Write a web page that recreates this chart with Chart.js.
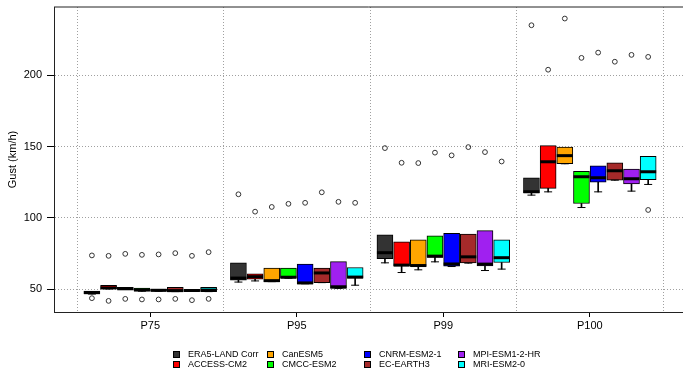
<!DOCTYPE html>
<html>
<head>
<meta charset="utf-8">
<script src="https://cdn.jsdelivr.net/npm/chart.js@4.4.0/dist/chart.umd.min.js"></script>
<style>
  html, body { margin: 0; padding: 0; background: #fff; }
  #wrap { position: relative; width: 683px; height: 371px; overflow: hidden; }
  #gustChart { position: absolute; left: 0; top: 0; }
  .key { position: absolute; font: 9px "Liberation Sans", Arial, sans-serif; color: #000; white-space: nowrap; line-height: 10px; }
  .key i { position: absolute; width: 5px; height: 5px; border: 1px solid #000; }
</style>
</head>
<body>
<div id="wrap">
  <canvas id="gustChart" width="683" height="371"></canvas>
  <div id="legend"></div>
</div>
<script>
const groups = ['P75', 'P95', 'P99', 'P100'];
const models = ['ERA5-LAND Corr', 'ACCESS-CM2', 'CanESM5', 'CMCC-ESM2', 'CNRM-ESM2-1', 'EC-EARTH3', 'MPI-ESM1-2-HR', 'MRI-ESM2-0'];
const colors = ['#333333', '#FF0000', '#FFA500', '#00FF00', '#0000FF', '#A52A2A', '#A020F0', '#00FFFF'];
const yTicks = [50, 100, 150, 200];

// one row per model, one value per percentile (P75, P95, P99, P100)
const lowerQuartile = [
    [46.6, 56.3, 71.5, 117.6],
    [50.2, 57.0, 66.4, 120.7],
    [49.8, 55.3, 65.9, 138.0],
    [48.6, 57.7, 72.3, 110.1],
    [48.6, 53.8, 66.2, 125.1],
    [48.3, 54.6, 68.5, 126.5],
    [48.6, 50.6, 66.4, 123.9],
    [48.3, 57.7, 68.7, 126.8]
];
const medians = [
    [47.6, 57.8, 75.6, 118.4],
    [50.9, 58.8, 66.9, 139.4],
    [50.3, 56.0, 66.6, 143.7],
    [49.5, 58.4, 73.2, 128.9],
    [49.2, 54.4, 67.7, 128.2],
    [49.0, 61.4, 72.7, 133.1],
    [49.1, 51.7, 67.6, 127.5],
    [49.4, 58.5, 72.1, 132.4]
];
const upperQuartile = [
    [48.6, 68.5, 88.2, 128.2],
    [52.8, 60.8, 83.3, 150.7],
    [51.3, 64.8, 84.7, 149.8],
    [50.7, 64.8, 87.5, 132.7],
    [50.0, 67.6, 89.2, 136.6],
    [51.3, 64.8, 88.7, 138.7],
    [49.8, 69.4, 91.1, 134.3],
    [51.3, 65.2, 84.7, 143.2]
];
const lowerWhisker = [
    [46.6, 55.0, 68.5, 116.0],
    [50.2, 55.8, 61.7, 118.3],
    [49.8, 55.3, 63.6, 138.0],
    [48.6, 57.7, 69.2, 107.3],
    [48.6, 53.8, 65.9, 118.3],
    [48.3, 54.6, 68.3, 126.5],
    [48.6, 50.6, 63.1, 118.8],
    [48.3, 52.8, 64.1, 123.5]
];
const upperOutliers = [
    [73.7, 116.6, 149.0, 235.2],
    [73.4, 104.4, 138.7, 204.0],
    [74.8, 107.7, 138.5, 239.9],
    [74.1, 109.9, 145.8, 212.3],
    [74.4, 110.6, 143.9, 216.0],
    [75.3, 118.0, 149.7, 209.6],
    [73.4, 111.3, 146.2, 214.4],
    [76.0, 110.6, 139.6, 213.0]
];
const lowerOutliers = [
    [43.7, null, null, null],
    [41.8, null, null, null],
    [43.2, null, null, null],
    [42.8, null, null, null],
    [42.8, null, null, null],
    [43.2, null, null, null],
    [42.3, null, null, null],
    [43.2, null, null, 105.6]
];

// box m of group g sits at g+1 shifted within the group
function xPos(g, m) {
    return g + 1 + (m - (models.length - 1) / 2) * 0.1138;
}

const datasets = [];
const whiskers = [], staples = [], mids = [], dots = [];

models.forEach((name, m) => {
    datasets.push({
        type: 'bar',
        label: name,
        data: groups.map((g, gi) => ({ x: xPos(gi, m), y: [lowerQuartile[m][gi], upperQuartile[m][gi]] })),
        backgroundColor: colors[m],
        borderColor: '#000',
        borderWidth: 1,
        borderSkipped: false,
        grouped: false,
        barThickness: 16,
        order: 2
    });
    groups.forEach((g, gi) => {
        const x = xPos(gi, m);
        whiskers.push({ x: x, y: [lowerWhisker[m][gi], lowerQuartile[m][gi]] });
        staples.push({ x: x, y: lowerWhisker[m][gi] });
        mids.push({ x: x, y: medians[m][gi] });
        dots.push({ x: x, y: upperOutliers[m][gi] });
        if (lowerOutliers[m][gi] !== null) dots.push({ x: x, y: lowerOutliers[m][gi] });
    });
});

datasets.push({
    type: 'bar', label: 'whiskers', data: whiskers, backgroundColor: '#000',
    borderWidth: 0, grouped: false, barThickness: 1, order: 3
});
datasets.push({
    type: 'scatter', label: 'staples', data: staples, pointStyle: 'line',
    pointRadius: 4, borderColor: '#000', borderWidth: 1, order: 1
});
datasets.push({
    type: 'scatter', label: 'medians', data: mids, pointStyle: 'line',
    pointRadius: 8, borderColor: '#000', borderWidth: 3, order: 0
});
datasets.push({
    type: 'scatter', label: 'outliers', data: dots, pointStyle: 'circle',
    pointRadius: 2.4, borderColor: '#333', backgroundColor: 'rgba(0,0,0,0)', borderWidth: 1, order: 0
});

const topFrame = {
    id: 'topFrame',
    afterDraw(chart) {
        const { ctx, chartArea } = chart;
        ctx.save();
        ctx.strokeStyle = '#222';
        ctx.lineWidth = 1;
        ctx.beginPath();
        ctx.moveTo(chartArea.left, chartArea.top);
        ctx.lineTo(chartArea.right, chartArea.top);
        ctx.stroke();
        ctx.restore();
    }
};

const font = { family: '"Liberation Sans", Arial, sans-serif', size: 11 };
const gridGray = '#a0a0a0';

new Chart(document.getElementById('gustChart'), {
    type: 'bar',
    data: { datasets: datasets },
    options: {
        responsive: false,
        animation: false,
        events: [],
        layout: { autoPadding: false, padding: { left: 0, right: 0, top: 7, bottom: 34 } },
        plugins: { legend: { display: false }, tooltip: { enabled: false } },
        scales: {
            x: {
                type: 'linear',
                offset: false,
                min: 0.343,
                max: 4.636,
                afterBuildTicks: s => {
                    const t = [];
                    for (let v = 0.5; v <= groups.length + 0.5; v += 0.5) t.push({ value: v });
                    s.ticks = t;
                },
                afterFit: s => { s.height = 25; s.paddingLeft = 0; s.paddingRight = 0; },
                ticks: {
                    autoSkip: false, maxRotation: 0, padding: 2, color: '#000', font: font,
                    callback: v => Number.isInteger(v) ? groups[v - 1] : ''
                },
                grid: {
                    offset: false,
                    color: c => (c.tick && Number.isInteger(c.tick.value)) ? 'rgba(0,0,0,0)' : gridGray,
                    tickColor: c => (c.tick && Number.isInteger(c.tick.value)) ? '#000' : 'rgba(0,0,0,0)',
                    tickLength: 5,
                    tickBorderDash: []
                },
                border: { color: '#222', width: 1, dash: [1, 2] }
            },
            y: {
                min: 34,
                max: 248,
                afterBuildTicks: s => { s.ticks = yTicks.map(v => ({ value: v })); },
                afterFit: s => { s.width = 54; s.paddingTop = 0; s.paddingBottom = 0; },
                ticks: { color: '#000', font: font, padding: 5 },
                grid: { color: gridGray, tickColor: '#000', tickLength: 7, tickBorderDash: [] },
                border: { color: '#222', width: 1, dash: [1, 2] },
                title: { display: true, text: 'Gust (km/h)', color: '#000', font: font, padding: { top: 6, bottom: 0 } }
            }
        }
    },
    plugins: [topFrame]
});

// legend laid out column by column, like the original
const legendCols = [173, 267, 364, 458];
const legendRows = [349, 359];
const legend = document.getElementById('legend');
models.forEach((name, m) => {
    const col = Math.floor(m / 2), row = m % 2;
    const el = document.createElement('div');
    el.className = 'key';
    el.style.left = legendCols[col] + 'px';
    el.style.top = legendRows[row] + 'px';
    el.style.paddingLeft = '15px';
    el.innerHTML = '<i style="left:0;top:2px;background:' + colors[m] + '"></i>' + name;
    legend.appendChild(el);
});
</script>
</body>
</html>
